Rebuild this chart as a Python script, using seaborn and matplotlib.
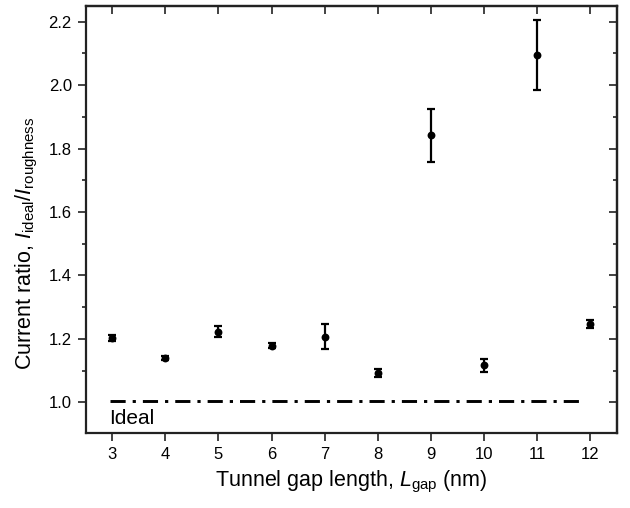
import numpy as np
import pandas as pd
import matplotlib
matplotlib.use('Agg')
import matplotlib.pyplot as plt
from matplotlib.ticker import MultipleLocator, FormatStrFormatter
import seaborn as sns

# ─── Data ────────────────────────────────────────────────────────────────────
gap_nm   = [3, 4, 5, 6, 7, 8, 9, 10, 11, 12]
ratio    = [1.202, 1.139, 1.223, 1.178, 1.207, 1.092, 1.842, 1.116, 2.096, 1.246]
ratio_er = [0.010, 0.006, 0.018, 0.008, 0.040, 0.013, 0.084, 0.020, 0.110, 0.013]

ideal_x = [2.95, 11.9]
ideal_y = [1.003, 1.003]

df = pd.DataFrame({'gap': gap_nm, 'ratio': ratio, 'err': ratio_er})
ideal = pd.DataFrame({'x': ideal_x, 'y': ideal_y})

# ─── Style ───────────────────────────────────────────────────────────────────
sns.set_style('ticks')
plt.rcParams['font.family'] = ['Liberation Sans', 'DejaVu Sans']
plt.rcParams['mathtext.fontset'] = 'custom'
plt.rcParams['mathtext.rm'] = 'Liberation Sans'
plt.rcParams['mathtext.it'] = 'Liberation Sans:italic'
plt.rcParams['text.color'] = 'black'
plt.rcParams['axes.labelcolor'] = 'black'
plt.rcParams['xtick.color'] = 'black'
plt.rcParams['ytick.color'] = 'black'

EDGE = '#222222'

fig = plt.figure(figsize=(6.3, 5.08), dpi=100)
ax = fig.add_axes([0.136, 0.147, 0.843, 0.842])

# ideal reference line
sns.lineplot(data=ideal, x='x', y='y', ax=ax, color='black', lw=2.1,
             legend=False)
ax.lines[-1].set_dashes([5.2, 2.4, 1.1, 2.4])

# error bars + points
ax.errorbar(df['gap'], df['ratio'], yerr=df['err'], fmt='none',
            ecolor='black', elinewidth=1.6, capsize=2.8, capthick=1.6)
sns.scatterplot(data=df, x='gap', y='ratio', ax=ax, color='black', s=32,
                edgecolor='black', linewidth=0, zorder=3)

ax.text(2.94, 0.93, 'Ideal', fontsize=15)

ax.set_xlim(2.5, 12.5)
ax.set_ylim(0.902, 2.251)
ax.xaxis.set_major_locator(MultipleLocator(1))
ax.yaxis.set_major_locator(MultipleLocator(0.2))
ax.yaxis.set_minor_locator(MultipleLocator(0.1))
ax.yaxis.set_major_formatter(FormatStrFormatter('%.1f'))

ax.tick_params(axis='both', which='major', direction='out', length=6,
               width=1.2, labelsize=12, color=EDGE, labelcolor='black', pad=4)
ax.tick_params(axis='y', which='minor', direction='out', length=3, width=1.2,
               color=EDGE)

for sp in ax.spines.values():
    sp.set_linewidth(1.6)
    sp.set_color(EDGE)
    sp.set_visible(True)

# top / right ticks point inwards
top = ax.secondary_xaxis('top')
top.xaxis.set_major_locator(MultipleLocator(1))
top.tick_params(direction='in', length=6, width=1.2, labeltop=False,
                color=EDGE)
top.spines['top'].set_linewidth(1.6)
top.spines['top'].set_color(EDGE)
right = ax.secondary_yaxis('right')
right.yaxis.set_major_locator(MultipleLocator(0.2))
right.yaxis.set_minor_locator(MultipleLocator(0.1))
right.tick_params(which='major', direction='in', length=6, width=1.2,
                  labelright=False, color=EDGE)
right.tick_params(which='minor', direction='in', length=3, width=1.2,
                  color=EDGE)
right.spines['right'].set_linewidth(1.6)
right.spines['right'].set_color(EDGE)

ax.set_xlabel('Tunnel gap length, $\\mathit{L}_{\\mathrm{gap}}$ (nm)',
              fontsize=15.5, labelpad=5)
ax.set_ylabel('Current ratio, $\\mathit{I}_{\\mathrm{ideal}}/\\mathit{I}_{\\mathrm{roughness}}$',
              fontsize=15.5)
ax.yaxis.set_label_coords(-0.086, 0.444)

fig.savefig('out.png', dpi=100)
